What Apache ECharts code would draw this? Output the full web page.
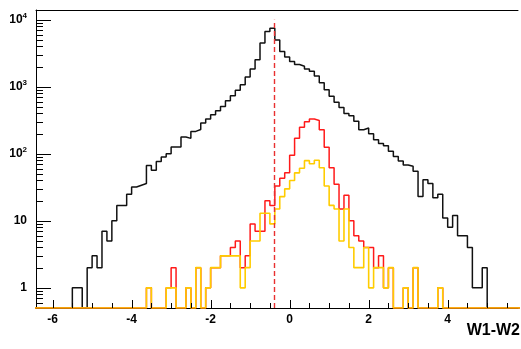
<!DOCTYPE html>
<html><head><meta charset="utf-8">
<script src="https://cdn.jsdelivr.net/npm/echarts@6/dist/echarts.min.js"></script>
<style>html,body{margin:0;padding:0;background:#fff;}#c{width:521px;height:349px;}</style>
</head><body><div id="c"></div>
<script>
// ---- data (bin width 0.125 in W1-W2) ----
const binWidth = 0.125;
const histMin = -6.5, histMax = 6.5;

const blackStart = -5.5;   // left edge of first listed bin
const blackCounts = [1, 1, 0, 2, 3, 2, 7, 5, 10, 17,
  17, 25, 32, 34, 36, 67, 57, 77, 90, 100,
  126, 126, 178, 170, 216, 230, 288, 330, 384, 440,
  509, 620, 736, 890, 1073, 1400, 1841, 2530, 4490, 6700,
  7500,
  5000, 3370, 2780, 2390, 2150, 2030, 1850, 1700, 1450, 1150,
  900, 720, 590, 490, 400, 370, 305, 229, 243, 200,
  162, 142, 132, 109, 91, 78, 68, 65, 55, 23,
  41, 36, 22, 25, 11, 8, 12, 6, 6, 4,
  1, 1, 2];

const redStart = -3.625;
const redCounts = [1, 0, 0, 0, 1, 2, 0, 0, 1, 0,
  2, 0, 1, 2, 2, 3, 3, 4, 5, 2,
  3, 9, 7, 7, 20, 17, 33, 43, 52, 95,
  170, 250, 300, 330, 315, 229, 125, 62, 35, 15,
  24, 10, 6, 5, 4, 4, 2, 3, 1, 2,
  0, 0, 1, 0, 2, 0, 0, 0, 0, 1];

const yellowStart = -3.625;
const yellowCounts = [1, 0, 0, 0, 1, 1, 0, 0, 1, 0,
  2, 0, 1, 2, 2, 3, 3, 3, 3, 1,
  2, 5, 5, 13, 13, 9, 15, 23, 30, 40,
  52, 61, 79, 71, 80, 62, 33, 17, 15, 5,
  15, 4, 2, 2, 4, 1, 2, 2, 1, 2,
  0, 0, 1, 0, 2, 0, 0, 0, 0, 1];

const cutValue = -0.4;
const xTickLabels = [-6, -4, -2, 0, 2, 4];
const yTickLabels = [1, 10, 100, 1000, 10000];
const axisTitle = 'W1-W2';

// ---- layout / style ----
const xMin = -6.42, xMax = 5.78;
const yMin = 0.5, yMax = 14000;
const FONT = '"Liberation Sans", Arial, Helvetica, sans-serif';

function stepData(start, counts) {
  const nBefore = Math.round((start - histMin) / binWidth);
  const all = new Array(nBefore).fill(0).concat(counts);
  while (histMin + all.length * binWidth < histMax - 1e-9) all.push(0);
  const pts = [];
  for (let i = 0; i < all.length; i++) pts.push([histMin + i * binWidth, Math.max(all[i], yMin)]);
  pts.push([histMin + all.length * binWidth, Math.max(all[all.length - 1], yMin)]);
  return pts;
}

// tick marks (positions only)
const tickItems = [];
yTickLabels.forEach(v => tickItems.push([xMin, v, 0]));
for (let e = -1; e <= 4; e++) for (let k = 2; k <= 9; k++) {
  const v = k * Math.pow(10, e);
  if (v > yMin && v < yMax) tickItems.push([xMin, v, 1]);
}
xTickLabels.forEach(v => tickItems.push([v, yMin, 2]));
for (let v = -6; v <= 5.5 + 1e-9; v += 0.5) {
  if (Math.abs(v / 2 - Math.round(v / 2)) > 1e-9) tickItems.push([v, yMin, 3]);
}

const chart = echarts.init(document.getElementById('c'), null, {renderer: 'canvas'});
const sup = ['', '', '2', '3', '4'];
chart.setOption({
  animation: false,
  backgroundColor: '#fff',
  grid: {left: 36, right: 0, top: 10, bottom: 41, containLabel: false},
  xAxis: [{
    type: 'value', min: xMin, max: xMax, splitNumber: 5,
    axisLine: {show: true, onZero: false, lineStyle: {color: '#000', width: 1}},
    axisTick: {show: false}, splitLine: {show: false},
    axisLabel: {
      margin: 6, color: '#000', fontSize: 12, fontWeight: 'bold', fontFamily: FONT,
      formatter: v => (xTickLabels.some(t => Math.abs(t - v) < 1e-6) ? String(Math.round(v)) : '')
    }
  }, {
    type: 'value', position: 'top', min: xMin, max: xMax,
    axisLine: {show: true, onZero: false, lineStyle: {color: '#000', width: 1}},
    axisTick: {show: false}, axisLabel: {show: false}, splitLine: {show: false}
  }],
  yAxis: {
    type: 'log', logBase: 10, min: yMin, max: yMax,
    axisLine: {show: true, onZero: false, lineStyle: {color: '#000', width: 1}},
    axisTick: {show: false}, splitLine: {show: false},
    axisLabel: {
      margin: 9,
      formatter: v => {
        const e = Math.log10(v), r = Math.round(e);
        if (Math.abs(e - r) > 1e-6 || r < 0 || r > 4) return '';
        if (r === 0) return '{b|1}';
        if (r === 1) return '{b|10}';
        return '{b|10}{s|' + sup[r] + '}';
      },
      rich: {
        b: {fontSize: 12, fontWeight: 'bold', fontFamily: FONT, color: '#000'},
        s: {fontSize: 8, fontWeight: 'bold', fontFamily: FONT, color: '#000', padding: [0, 0, 8, 0]}
      }
    }
  },
  series: [
    {
      type: 'line', name: 'all', step: 'end', showSymbol: false, symbol: 'none',
      data: stepData(blackStart, blackCounts),
      lineStyle: {color: '#111', width: 1.5}, itemStyle: {color: '#111'},
      markLine: {
        silent: true, symbol: ['none', 'none'], label: {show: false},
        lineStyle: {color: '#e83030', type: [5, 3], width: 1.4},
        data: [[{coord: [cutValue, yMin]}, {coord: [cutValue, 10000]}]]
      }
    },
    {
      type: 'line', name: 'red', step: 'end', showSymbol: false, symbol: 'none',
      data: stepData(redStart, redCounts),
      lineStyle: {color: '#ff1a1a', width: 1.5}, itemStyle: {color: '#ff1a1a'}
    },
    {
      type: 'line', name: 'yellow', step: 'end', showSymbol: false, symbol: 'none',
      data: stepData(yellowStart, yellowCounts),
      lineStyle: {color: '#ffcc00', width: 1.6}, itemStyle: {color: '#ffcc00'}
    },
    {
      type: 'custom', silent: true, clip: false, z: 5,
      data: tickItems,
      encode: {x: 0, y: 1},
      renderItem: (params, api) => {
        const p = api.coord([api.value(0), api.value(1)]);
        const kind = api.value(2);
        let shape;
        if (kind === 0 || kind === 1) {
          const y = Math.round(p[1]) + 0.5, x = Math.round(p[0]);
          shape = {x1: x, y1: y, x2: x + (kind === 0 ? 15 : 7), y2: y};
        } else {
          const x = Math.round(p[0]) + 0.5, y = Math.round(p[1]);
          shape = {x1: x, y1: y, x2: x, y2: y - (kind === 2 ? 8 : 5)};
        }
        return {type: 'line', shape: shape, style: {stroke: '#000', lineWidth: 1}};
      }
    }
  ],
  graphic: [{
    type: 'text', right: 1, top: 323,
    style: {text: axisTitle, font: 'bold 16px ' + FONT, fill: '#000'}
  }]
});
</script>
</body></html>
